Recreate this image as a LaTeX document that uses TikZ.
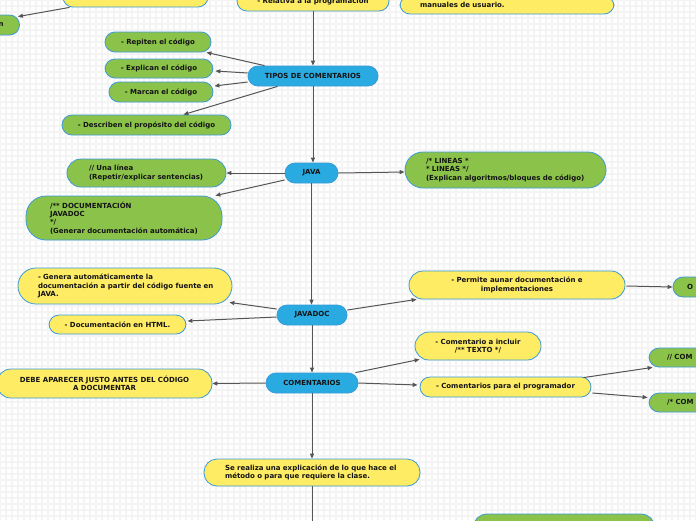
\documentclass[tikz,border=0pt]{standalone}
\usepackage{fontspec}
\setmainfont{DejaVu Sans}
\usetikzlibrary{arrows.meta}
\definecolor{mmblue}{HTML}{29ABE2}
\definecolor{mmgreen}{HTML}{8BC34A}
\definecolor{mmyellow}{HTML}{FFEC65}
\definecolor{mmborder}{HTML}{3A9AD9}
\definecolor{mmline}{HTML}{555555}
\definecolor{mmgrid}{HTML}{F4F4F4}
\newcommand{\mmln}[1]{\mbox{#1}}
\tikzset{
  mm/.style={draw=mmborder, line width=0.8pt, inner ysep=0pt, rounded corners=10pt,
    font=\fontsize{7}{8.4}\selectfont\bfseries, text=black!92, align=center},
  yel/.style={mm, fill=mmyellow},
  grn/.style={mm, fill=mmgreen},
  blu/.style={mm, fill=mmblue},
  sz/.style n args={3}{text width=#1pt, inner xsep=#2pt, minimum height=#3pt},
  conn/.style={draw=mmline, line width=1pt, -{Triangle[length=5pt,width=4pt]}},
  plain/.style={draw=mmline, line width=1pt}
}
\begin{document}
\begin{tikzpicture}[x=1pt,y=-1pt]
\useasboundingbox (0,0) rectangle (696,520);
\clip (0,0) rectangle (696,520);
\fill[white] (0,0) rectangle (696,520);
\draw[mmgrid, line width=2.5pt, step=6pt] (0,0) grid (696,520);

% top partial nodes
\node[yel, sz={125}{10}{22}] (tl) at (135.5,-4) {};
\node[grn, sz={47}{16}{20}, align=right] (lg) at (-20,25) {n};
\node[yel, sz={132}{10}{20}] (rel) at (313,1) {\mmln{- Relativa a la programación}};
\node[yel, sz={174}{20}{18}, align=left] (man) at (507,5) {manuales de usuario.};

% tipos
\node[blu, sz={110}{10}{20}] (tipos) at (313,76) {\mmln{TIPOS DE COMENTARIOS}};
\node[grn, sz={86}{10}{20}] (rep) at (158,42) {\mmln{- Repiten el código}};
\node[grn, sz={88}{10}{19}] (expl) at (159,68.5) {\mmln{- Explican el código}};
\node[grn, sz={84}{10}{20}] (marc) at (161,92) {\mmln{- Marcan el código}};
\node[grn, sz={149}{10}{20}] (desc) at (146.5,125) {\mmln{- Describen el propósito del código}};

% java
\node[blu, sz={33}{10}{20}] (java) at (311.5,173) {JAVA};
\node[grn, sz={115}{22}{28}, align=left, rounded corners=14pt] (una) at (146.5,173)
  {\mmln{// Una línea}\\\mmln{(Repetir/explicar sentencias)}};
\node[grn, sz={148}{24}{44}, align=left, rounded corners=20pt] (docj) at (124,218)
  {\mmln{/** DOCUMENTACIÓN}\\\mmln{JAVADOC}\\\mmln{*/}\\\mmln{(Generar documentación automática)}};
\node[grn, sz={159}{21}{36}, align=left, rounded corners=18pt] (lineas) at (505.5,170)
  {\mmln{/* LINEAS *}\\\mmln{* LINEAS */}\\\mmln{(Explican algoritmos/bloques de código)}};

% javadoc
\node[blu, sz={50}{10}{20}] (jdoc) at (312,315) {JAVADOC};
\node[yel, sz={174}{20}{36}, align=left, rounded corners=18pt] (gen) at (125,286)
  {\mmln{- Genera automáticamente la}\\\mmln{documentación a partir del código fuente en}\\\mmln{JAVA.}};
\node[yel, sz={117}{10}{19}] (html) at (117.5,324.5) {\mmln{- Documentación en HTML.}};
\node[yel, sz={196}{10}{28}, rounded corners=14pt] (perm) at (517,285)
  {\mmln{- Permite aunar documentación e}\\\mmln{implementaciones}};
\node[grn, sz={66}{14}{20}, align=left] (og) at (720,287) {O};

% comentarios
\node[blu, sz={72}{10}{20}] (com) at (312,383) {\mmln{COMENTARIOS}};
\node[yel, sz={195}{10}{29}, rounded corners=14pt] (debe) at (104.5,383.5)
  {\mmln{DEBE APARECER JUSTO ANTES DEL CÓDIGO}\\\mmln{A DOCUMENTAR}};
\node[yel, sz={106}{10}{28}, rounded corners=14pt] (cinc) at (478,346)
  {\mmln{- Comentario a incluir}\\\mmln{/** TEXTO */}};
\node[yel, sz={151}{10}{20}] (cprog) at (505.5,387) {\mmln{- Comentarios para el programador}};
\node[grn, sz={84}{18}{19}, align=left] (g1) at (709,357.5) {\mmln{// COM}};
\node[grn, sz={84}{18}{19}, align=left] (g2) at (709,402.5) {\mmln{/* COM}};

% se realiza
\node[yel, sz={174}{21}{27}, align=left, rounded corners=13pt] (se) at (312,472.5)
  {\mmln{Se realiza una explicación de lo que hace el}\\\mmln{método o para que requiere la clase.}};
\node[grn, sz={162}{10}{30}, rounded corners=14pt] (bg) at (564,529) {};
\coordinate (seend) at (312,530);

% connectors
\draw[conn] ([xshift=7pt]tl.south west) -- ([xshift=-2pt,yshift=-2pt]lg.north east);
\draw[conn] (rel.south) -- (rel.south |- tipos.north);
\draw[conn] ([xshift=17pt]tipos.north west) -- ([xshift=-5pt]rep.south east);
\draw[conn] ([yshift=3pt]tipos.west) -- ([xshift=2pt,yshift=-2.5pt]expl.east);
\draw[conn] ([yshift=-6pt]tipos.west) -- ([xshift=1pt,yshift=6pt]marc.east);
\draw[conn] ([xshift=30pt]tipos.south west) -- ([xshift=-48pt]desc.north east);
\draw[conn] (tipos.south) -- (tipos.south |- java.north);
\draw[conn] (java.west) -- (una.east);
\draw[conn] ([yshift=-7pt]java.west) -- ([xshift=-7pt]docj.north east);
\draw[conn] (java.east) -- ([yshift=-2pt]lineas.west);
\draw[conn] (java.south) -- (java.south |- jdoc.north);
\draw[conn] ([yshift=6pt]jdoc.west) -- ([xshift=-3pt,yshift=2pt]gen.south east);
\draw[conn] ([yshift=-2pt]jdoc.west) -- ([xshift=1pt,yshift=3.5pt]html.east);
\draw[conn] ([yshift=5pt]jdoc.east) -- ([xshift=8pt]perm.south west);
\draw[conn] ([xshift=1pt,yshift=-1pt]perm.east) -- (og.west);
\draw[conn] (jdoc.south) -- (jdoc.south |- com.north);
\draw[conn] (com.west) -- (debe.east);
\draw[conn] ([xshift=-3pt]com.north east) -- ([xshift=5pt,yshift=1pt]cinc.south west);
\draw[conn] (com.east) -- ([xshift=-2pt,yshift=2pt]cprog.west);
\draw[conn] ([xshift=-8pt,yshift=-1pt]cprog.north east) -- ([xshift=4pt]g1.south west);
\draw[conn] ([xshift=1pt,yshift=-6pt]cprog.east) -- ([xshift=-1pt,yshift=5pt]g2.west);
\draw[conn] (com.south) -- (com.south |- se.north);
\draw[plain] (se.south) -- (seend);
\end{tikzpicture}
\end{document}
